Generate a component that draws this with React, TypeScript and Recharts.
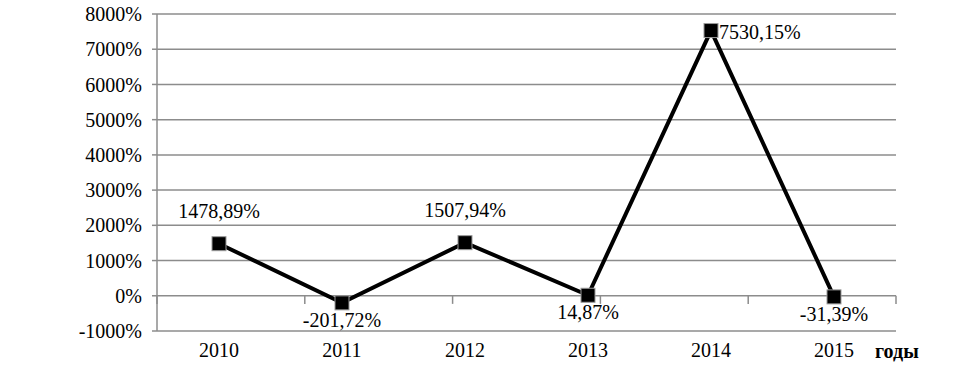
import React from 'react';
import {
  LineChart,
  Line,
  XAxis,
  YAxis,
  CartesianGrid,
  ReferenceLine,
  LabelList,
} from 'recharts';

const YEARS = ['2010', '2011', '2012', '2013', '2014', '2015'];
const GROWTH = [1478.89, -201.72, 1507.94, 14.87, 7530.15, -31.39];
const Y_TICKS = [-1000, 0, 1000, 2000, 3000, 4000, 5000, 6000, 7000, 8000];
const BOUNDARIES = [0, 1, 2, 3, 4, 5, 6];

// where each value label sits relative to its point
const LABEL_SIDE = ['top', 'bottom', 'top', 'bottom', 'right', 'bottom'];

const FONT = '"Liberation Serif", "Times New Roman", serif';
const GRID = '#8c8c8c';

const data = YEARS.map((year, i) => ({ year, value: GROWTH[i] }));

const fmt = (v: number) => v.toFixed(2).replace('.', ',') + '%';

function SquareDot(props: any) {
  const { cx, cy } = props;
  if (cx == null || cy == null) return null;
  return <rect x={cx - 7} y={cy - 7} width={14} height={14} fill="#000" stroke="#9a9a9a" strokeWidth={1} />;
}

function ValueLabel(props: any) {
  const { x, y, value, index } = props;
  const side = LABEL_SIDE[index];
  let tx = x;
  let ty = y;
  let anchor: 'middle' | 'start' = 'middle';
  if (side === 'top') ty = y - 26;
  else if (side === 'bottom') ty = y + 24;
  else {
    tx = x + 8;
    ty = y + 8;
    anchor = 'start';
  }
  return (
    <text x={tx} y={ty} textAnchor={anchor} fontSize={20} fontFamily={FONT} fill="#000">
      {fmt(value)}
    </text>
  );
}

export default function App() {
  return (
    <div style={{ position: 'absolute', left: 0, top: 0, width: 969, height: 375, background: '#fff' }}>
      <LineChart
        width={969}
        height={375}
        data={data}
        margin={{ top: 14, right: 73, left: 10, bottom: 0 }}
        style={{ fontFamily: FONT }}
      >
        <CartesianGrid vertical={false} stroke={GRID} strokeWidth={1.5} />
        <XAxis
          dataKey="year"
          axisLine={false}
          tickLine={false}
          tickSize={0}
          tickMargin={12}
          height={44}
          padding={{ left: 62, right: 62 }}
          tick={{ fontSize: 20, fill: '#000', fontFamily: FONT }}
        />
        <XAxis xAxisId="b" type="number" domain={[0, 6]} hide />
        <YAxis
          domain={[-1000, 8000]}
          ticks={Y_TICKS}
          interval={0}
          width={147}
          axisLine={{ stroke: GRID, strokeWidth: 1.5 }}
          tickLine={{ stroke: GRID, strokeWidth: 1.5 }}
          tickSize={5}
          tickMargin={10}
          tickFormatter={(v: number) => `${v}%`}
          tick={{ fontSize: 20, fill: '#000', fontFamily: FONT }}
        />
        {BOUNDARIES.map((b) => (
          <ReferenceLine
            key={b}
            xAxisId="b"
            segment={[
              { x: b, y: 0 },
              { x: b, y: -230 },
            ]}
            stroke={GRID}
            strokeWidth={1.5}
          />
        ))}
        <Line
          type="linear"
          dataKey="value"
          stroke="#000"
          strokeWidth={4}
          dot={<SquareDot />}
          activeDot={false}
          isAnimationActive={false}
        >
          <LabelList dataKey="value" content={<ValueLabel />} />
        </Line>
      </LineChart>
      <div
        style={{
          position: 'absolute',
          left: 875,
          top: 339,
          fontFamily: FONT,
          fontWeight: 'bold',
          fontSize: 20,
          lineHeight: '24px',
          color: '#000',
        }}
      >
        годы
      </div>
    </div>
  );
}
